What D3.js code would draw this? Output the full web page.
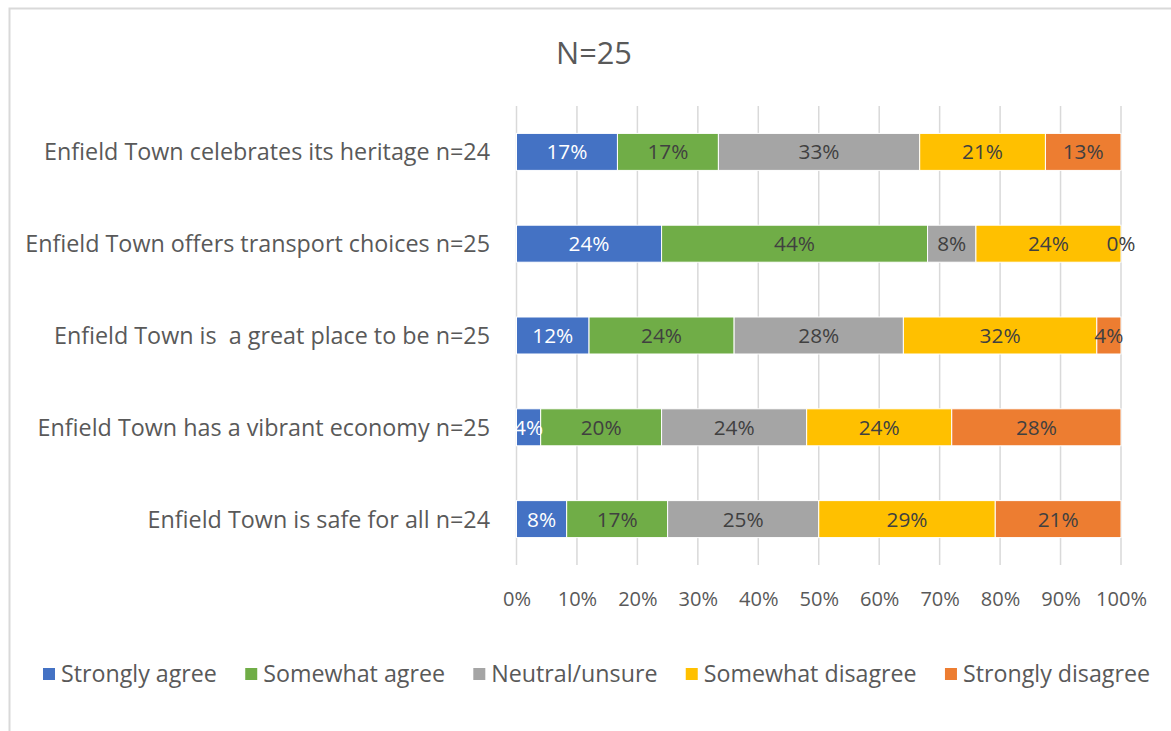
<!DOCTYPE html>
<html><head><meta charset="utf-8">
<script src="https://cdn.jsdelivr.net/npm/d3@7"></script>
<style>
html,body{margin:0;padding:0;background:#fff;}
svg{display:block;}
text{white-space:pre;}
</style></head>
<body>
<svg id="chart" width="1171" height="731"></svg>
<script>
const FONT = "'Open Sans','Noto Sans',sans-serif";
const title = "N=25";
const categories = [
  "Enfield Town celebrates its heritage n=24",
  "Enfield Town offers transport choices n=25",
  "Enfield Town is  a great place to be n=25",
  "Enfield Town has a vibrant economy n=25",
  "Enfield Town is safe for all n=24"
];
const seriesNames = ["Strongly agree","Somewhat agree","Neutral/unsure","Somewhat disagree","Strongly disagree"];
const seriesColors = ["#4472C4","#70AD47","#A5A5A5","#FFC000","#ED7D31"];
const stronglyAgree    = [16.7, 24, 12,  4,  8.3];
const somewhatAgree    = [16.7, 44, 24, 20, 16.7];
const neutralUnsure    = [33.3,  8, 28, 24, 25];
const somewhatDisagree = [20.8, 24, 32, 24, 29.2];
const stronglyDisagree = [12.5,  0,  4, 28, 20.8];
const tickValues = [0,10,20,30,40,50,60,70,80,90,100];

const seriesValues = [stronglyAgree, somewhatAgree, neutralUnsure, somewhatDisagree, stronglyDisagree];
const rows = categories.map((c,i)=>{
  const r = {cat:c};
  seriesNames.forEach((s,j)=> r[s] = seriesValues[j][i]);
  return r;
});
const stack = d3.stack().keys(seriesNames)(rows);

const svg = d3.select("#chart").style("font-family", FONT);
function fitSize(sample, targetW, base){
  const t = svg.append("text").style("font-family",FONT).style("font-size", base+"px").text(sample);
  const w = t.node().getComputedTextLength();
  t.remove();
  return base * targetW / w;
}
const catSize = fitSize(categories[0], 446, 20);
const legSize = fitSize("Strongly agree", 156, 20);
const tickSize = fitSize("100%", 51, 20);
const lblSize = fitSize("17%", 41, 20);
const titleSize = fitSize(title, 76, 28);

// frame
svg.append("path").attr("d","M9.5,731 L9.5,8.5 L1171,8.5").attr("fill","none").attr("stroke","#D9D9D9").attr("stroke-width",2);

const x = d3.scaleLinear().domain([0,100]).range([516.5,1121]);
const y = d3.scaleBand().domain(categories).range([106,565]).paddingInner(0.597).paddingOuter(0.2985);

// title
svg.append("text").attr("x",594).attr("y",64).attr("text-anchor","middle")
  .attr("fill","#595959").style("font-family",FONT).style("font-size",titleSize+"px").text(title);

// gridlines
svg.append("g").selectAll("line").data(tickValues).join("line")
  .attr("x1",d=>x(d)).attr("x2",d=>x(d)).attr("y1",106).attr("y2",565)
  .attr("stroke","#D9D9D9").attr("stroke-width",1.5);

// axis labels
const xAxis = d3.axisBottom(x).tickValues(tickValues).tickFormat(d=>d+"%").tickSize(0).tickPadding(0);
const ax = svg.append("g").attr("transform","translate(0,606)").call(xAxis);
ax.select(".domain").remove();
ax.selectAll("text").attr("fill","#595959").attr("dy",0).style("font-size",tickSize+"px").style("font-family",FONT);

// bars
const g = svg.append("g");
stack.forEach((layer,j)=>{
  g.append("g").selectAll("rect").data(layer).join("rect")
    .attr("x",d=>x(d[0])).attr("y",d=>y(d.data.cat))
    .attr("width",d=>x(d[1])-x(d[0])).attr("height",y.bandwidth())
    .attr("fill",seriesColors[j]).attr("stroke","#fff").attr("stroke-width",1);
});
stack.forEach((layer,j)=>{
  g.append("g").selectAll("text").data(layer).join("text")
    .attr("x",d=>(x(d[0])+x(d[1]))/2).attr("y",d=>y(d.data.cat)+y.bandwidth()/2)
    .attr("dy","0.36em").attr("text-anchor","middle")
    .attr("fill", j===0 ? "#fff" : "#404040").style("font-family",FONT).style("font-size",lblSize+"px")
    .text(d=>Math.round(d[1]-d[0])+"%");
});

// category labels
const yAxis = d3.axisLeft(y).tickSize(0).tickPadding(0);
const ay = svg.append("g").attr("transform","translate(490,0)").call(yAxis);
ay.select(".domain").remove();
ay.selectAll("text").attr("fill","#595959").attr("dy","0.36em").style("font-size",catSize+"px").style("font-family",FONT);

// legend
const lg = svg.append("g");
const items = lg.selectAll("g").data(seriesNames).join("g");
items.append("rect").attr("width",12).attr("height",12).attr("y",-6).attr("fill",(d,i)=>seriesColors[i]);
items.append("text").attr("x",18).attr("dy","0.36em").attr("fill","#595959").style("font-family",FONT).style("font-size",legSize+"px").text(d=>d);
let widths = [];
items.each(function(){ widths.push(this.getBBox().width); });
const left = 43, right = 1150;
const gap = (right - left - d3.sum(widths)) / (widths.length-1);
let cx = left;
items.each(function(d,i){
  d3.select(this).attr("transform",`translate(${cx},674)`);
  cx += widths[i] + gap;
});
</script>
</body></html>
